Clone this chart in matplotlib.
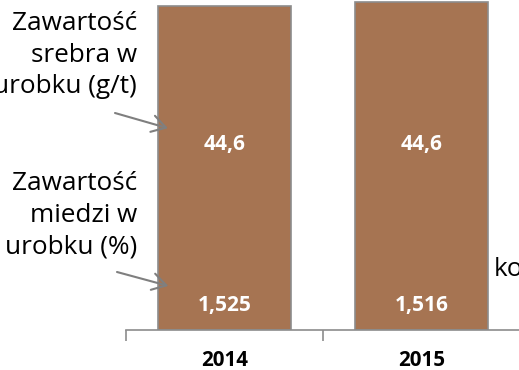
import matplotlib.pyplot as plt

# urobek (mln t) oraz zawartość srebra i miedzi w urobku
lata = ['2014', '2015']
urobek = [30.5, 30.9]
srebro = ['44,6', '44,6']
miedz = ['1,525', '1,516']

plt.rcParams['font.family'] = ['Open Sans', 'DejaVu Sans']

fig = plt.figure(figsize=(5.19, 3.70), dpi=100)
# oś szersza niż rysunek - trzecia kategoria wychodzi poza kadr
ax = fig.add_axes([126 / 519, 40 / 370, 591 / 519, 330 / 370])

x = range(len(lata))
ax.bar(x, urobek, width=0.675, color='#A67452', edgecolor='#8c8c8c', linewidth=1.2)

for i in x:
    ax.text(i, 17.45, srebro[i], ha='center', va='center', color='white',
            fontsize=15, fontweight='bold')
    ax.text(i, 2.35, miedz[i], ha='center', va='center', color='white',
            fontsize=15, fontweight='bold')

ax.set_xlim(-0.5, 2.5)
ax.set_ylim(0, 31.07)
ax.set_xticks([-0.5, 0.5, 1.5])
ax.set_xticklabels([])
ax.tick_params(axis='x', length=8, color='#8c8c8c', width=1.2)
ax.set_yticks([])
for s in ['top', 'right', 'left']:
    ax.spines[s].set_visible(False)
ax.spines['bottom'].set_color('#8c8c8c')
ax.spines['bottom'].set_linewidth(1.2)

for i, rok in enumerate(lata):
    ax.text(i, -2.85, rok, ha='center', va='center', fontsize=14.8,
            fontweight='bold', color='black')

# opisy ze strzałkami
strzalka = dict(arrowstyle='->,head_length=0.5,head_width=0.3', color='#7f7f7f',
                lw=1.5, mutation_scale=20, shrinkA=0, shrinkB=0)
fig.text(137 / 519, 1 - 11 / 370, 'Zawartość\nsrebra w\nurobku (g/t)', ha='right', va='top',
         fontsize=18.8, linespacing=1.35, color='black')
ax.annotate('', xy=(-0.287, 19.0), xytext=(115 / 519, 1 - 113 / 370),
            textcoords='figure fraction', arrowprops=strzalka)
fig.text(137 / 519, 1 - 171 / 370, 'Zawartość\nmiedzi w\nurobku (%)', ha='right', va='top',
         fontsize=18.8, linespacing=1.35, color='black')
ax.annotate('', xy=(-0.285, 4.15), xytext=(117 / 519, 1 - 272 / 370),
            textcoords='figure fraction', arrowprops=strzalka)

fig.text(494 / 519, 1 - 270 / 370, 'ko', ha='left', va='center', fontsize=18.8)

fig.savefig('out.png', dpi=100)
